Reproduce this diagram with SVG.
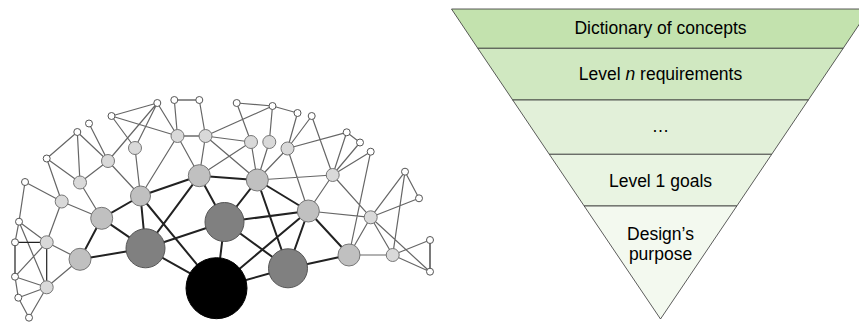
<svg xmlns="http://www.w3.org/2000/svg" width="859" height="323" viewBox="0 0 859 323">
<style>
.e{stroke:#666;stroke-width:1.2;fill:none}
.k{stroke:#222;stroke-width:1.2;fill:none}
.t{stroke:#222;stroke-width:2;fill:none}
.w{fill:#fff;stroke:#555;stroke-width:1}
.l{fill:#d9d9d9;stroke:#777;stroke-width:1}
.g{fill:#c0c0c0;stroke:#777;stroke-width:1}
.d{fill:#808080;stroke:#555;stroke-width:1}
.b{fill:#000;stroke:#000;stroke-width:1}
.band{stroke:#333;stroke-width:0.8}
.lab{font-family:"Liberation Sans",Arial,sans-serif;font-size:17.5px;fill:#000;text-anchor:middle}
</style>
<g id="connectors">
<path class="e" d="M111.5,116L157.3,103M111.5,116L177.5,136M111.5,116L135,148M157.3,103L135,148M157.3,103L108,161M157.3,103L177.5,136M174.3,100L177.5,136M199.3,100L205.5,136M177.5,136L140.5,196M177.5,136L199.3,175.7M205.5,136L199.3,175.7M205.5,136L272.5,106M205.5,136L251,142M205.5,136L257.3,180M236.7,103L272.5,106M236.7,103L251,142M272.5,106L297.5,113M272.5,106L269.3,142M251,142L199.3,175.7M251,142L257.3,180M269.3,142L257.3,180M297.5,113L287.5,148.5M311.7,116L287.5,148.5M311.7,116L332.7,175M287.5,148.5L346.7,132.3M287.5,148.5L257.3,180M287.5,148.5L308.3,211M346.7,132.3L360,142.5M346.7,132.3L332.7,175M360,142.5L332.7,175M370.7,151.7L332.7,175M370.7,151.7L349,255M257.3,180L332.7,175M332.7,175L308.3,211M332.7,175L370.7,217.3M405,171.7L419,198.3M405,171.7L370.7,217.3M405,171.7L392.7,255M419,198.3L370.7,217.3M308.3,211L370.7,217.3M370.7,217.3L349,255M370.7,217.3L392.7,255M370.7,217.3L430,271.7M349,255L392.7,255M392.7,255L430,240M392.7,255L430,271.7"/>
<path class="e" d="M89,123.5L108,161M77.3,132L108,161M77.3,132L80,182.5M77.3,132L46.7,158.5M46.7,158.5L80,182.5M46.7,158.5L61.7,201.5M80,182.5L108,161M25,182L61.7,201.5M25,182L19,221.7M80,182.5L101.7,218.3M135,148L140.5,196M108,161L140.5,196M61.7,201.5L101.7,218.3M61.7,201.5L46.7,242.3M19,221.7L46.7,242.3M19,221.7L15,242.3M19,221.7L46.7,287.3M46.7,242.3L80,259.3M15,276.7L46.7,287.3M15,276.7L46.7,242.3M18.3,297.7L46.7,287.3M18.3,297.7L15,276.7M29,317.7L46.7,287.3M29,317.7L18.3,297.7M46.7,287.3L80,259.3"/>
<path class="k" d="M174.3,100L199.3,100M177.5,136L205.5,136M15,242.3L46.7,242.3M15,242.3L15,276.7M46.7,242.3L46.7,287.3M430,240L430,271.7"/>
<path class="t" d="M140.5,196L101.7,218.3M80,259.3L101.7,218.3M80,259.3L145.5,248.3M101.7,218.3L145.5,248.3M140.5,196L145.5,248.3M199.3,175.7L257.3,180M199.3,175.7L140.5,196M199.3,175.7L224.5,222M199.3,175.7L145.5,248.3M140.5,196L216.5,288.2M224.5,222L216.5,288.2M224.5,222L145.5,248.3M224.5,222L308.3,211M224.5,222L288,268.3M145.5,248.3L216.5,288.2M216.5,288.2L288,268.3M216.5,288.2L308.3,211M257.3,180L308.3,211M257.3,180L224.5,222M257.3,180L288,268.3M308.3,211L349,255M288,268.3L349,255M288,268.3L308.3,211"/>
</g>
<g id="network-nodes">
<g id="w1"><circle class="w" cx="157.3" cy="103" r="3.5"/></g>
<g id="w2"><circle class="w" cx="174.3" cy="100" r="3.5"/></g>
<g id="w3"><circle class="w" cx="199.3" cy="100" r="3.5"/></g>
<g id="w4"><circle class="w" cx="236.7" cy="103" r="3.5"/></g>
<g id="w5"><circle class="w" cx="272.5" cy="106" r="3.5"/></g>
<g id="w6"><circle class="w" cx="111.5" cy="116" r="3.5"/></g>
<g id="w7"><circle class="w" cx="89" cy="123.5" r="3.5"/></g>
<g id="w8"><circle class="w" cx="77.3" cy="132" r="3.5"/></g>
<g id="w9"><circle class="w" cx="297.5" cy="113" r="3.5"/></g>
<g id="w10"><circle class="w" cx="311.7" cy="116" r="3.5"/></g>
<g id="w11"><circle class="w" cx="346.7" cy="132.3" r="3.5"/></g>
<g id="w12"><circle class="w" cx="360" cy="142.5" r="3.5"/></g>
<g id="w13"><circle class="w" cx="370.7" cy="151.7" r="3.5"/></g>
<g id="w14"><circle class="w" cx="46.7" cy="158.5" r="3.5"/></g>
<g id="w15"><circle class="w" cx="25" cy="182" r="3.5"/></g>
<g id="w16"><circle class="w" cx="405" cy="171.7" r="3.5"/></g>
<g id="w17"><circle class="w" cx="419" cy="198.3" r="3.5"/></g>
<g id="w18"><circle class="w" cx="19" cy="221.7" r="3.5"/></g>
<g id="w19"><circle class="w" cx="430" cy="240" r="3.5"/></g>
<g id="w20"><circle class="w" cx="15" cy="242.3" r="3.5"/></g>
<g id="w21"><circle class="w" cx="430" cy="271.7" r="3.5"/></g>
<g id="w22"><circle class="w" cx="15" cy="276.7" r="3.5"/></g>
<g id="w23"><circle class="w" cx="18.3" cy="297.7" r="3.5"/></g>
<g id="w24"><circle class="w" cx="29" cy="317.7" r="3.5"/></g>
<g id="l1"><circle class="l" cx="177.5" cy="136" r="6.5"/></g>
<g id="l2"><circle class="l" cx="205.5" cy="136" r="6.5"/></g>
<g id="l3"><circle class="l" cx="135" cy="148" r="6.5"/></g>
<g id="l4"><circle class="l" cx="251" cy="142" r="6.5"/></g>
<g id="l5"><circle class="l" cx="269.3" cy="142" r="6.5"/></g>
<g id="l6"><circle class="l" cx="287.5" cy="148.5" r="6.5"/></g>
<g id="l7"><circle class="l" cx="108" cy="161" r="6.5"/></g>
<g id="l8"><circle class="l" cx="332.7" cy="175" r="6.5"/></g>
<g id="l9"><circle class="l" cx="80" cy="182.5" r="6.5"/></g>
<g id="l10"><circle class="l" cx="61.7" cy="201.5" r="6.5"/></g>
<g id="l11"><circle class="l" cx="370.7" cy="217.3" r="6.5"/></g>
<g id="l12"><circle class="l" cx="46.7" cy="242.3" r="6.5"/></g>
<g id="l13"><circle class="l" cx="392.7" cy="255" r="6.5"/></g>
<g id="l14"><circle class="l" cx="46.7" cy="287.3" r="6.5"/></g>
<g id="g1"><circle class="g" cx="199.3" cy="175.7" r="11"/></g>
<g id="g2"><circle class="g" cx="257.3" cy="180" r="11"/></g>
<g id="g3"><circle class="g" cx="140.5" cy="196" r="10"/></g>
<g id="g4"><circle class="g" cx="308.3" cy="211" r="11"/></g>
<g id="g5"><circle class="g" cx="101.7" cy="218.3" r="11"/></g>
<g id="g6"><circle class="g" cx="349" cy="255" r="11"/></g>
<g id="g7"><circle class="g" cx="80" cy="259.3" r="11"/></g>
<g id="d1"><circle class="d" cx="224.5" cy="222" r="19.5"/></g>
<g id="d2"><circle class="d" cx="145.5" cy="248.3" r="19.5"/></g>
<g id="d3"><circle class="d" cx="288" cy="268.3" r="19.5"/></g>
<g id="hub"><circle class="b" cx="216.5" cy="288.2" r="30.5"/></g>
</g>
<g id="pyramid">
<g id="band1"><polygon class="band" fill="#c3e2ae" points="451.5,9 869.5,9 843.2,48.3 477.8,48.3"/><text class="lab" x="660.5" y="34.2">Dictionary of concepts</text></g>
<g id="band2"><polygon class="band" fill="#d0e8c1" points="477.8,48.3 843.2,48.3 808.3,100 512.7,100"/><text class="lab" x="660.5" y="80.2">Level <tspan font-style="italic">n</tspan> requirements</text></g>
<g id="band3"><polygon class="band" fill="#e2f0d9" points="512.7,100 808.3,100 771.7,154.3 549.3,154.3"/><text class="lab" x="660.5" y="132.3">…</text></g>
<g id="band4"><polygon class="band" fill="#e9f4e2" points="549.3,154.3 771.7,154.3 736.8,206 584.2,206"/><text class="lab" x="660.5" y="186.5">Level 1 goals</text></g>
<g id="band5"><polygon class="band" fill="#f3f9ef" points="584.2,206 736.8,206 660.5,319"/><text class="lab" x="660.5" y="240">Design’s</text><text class="lab" x="660.5" y="260">purpose</text></g>
</g>
</svg>
